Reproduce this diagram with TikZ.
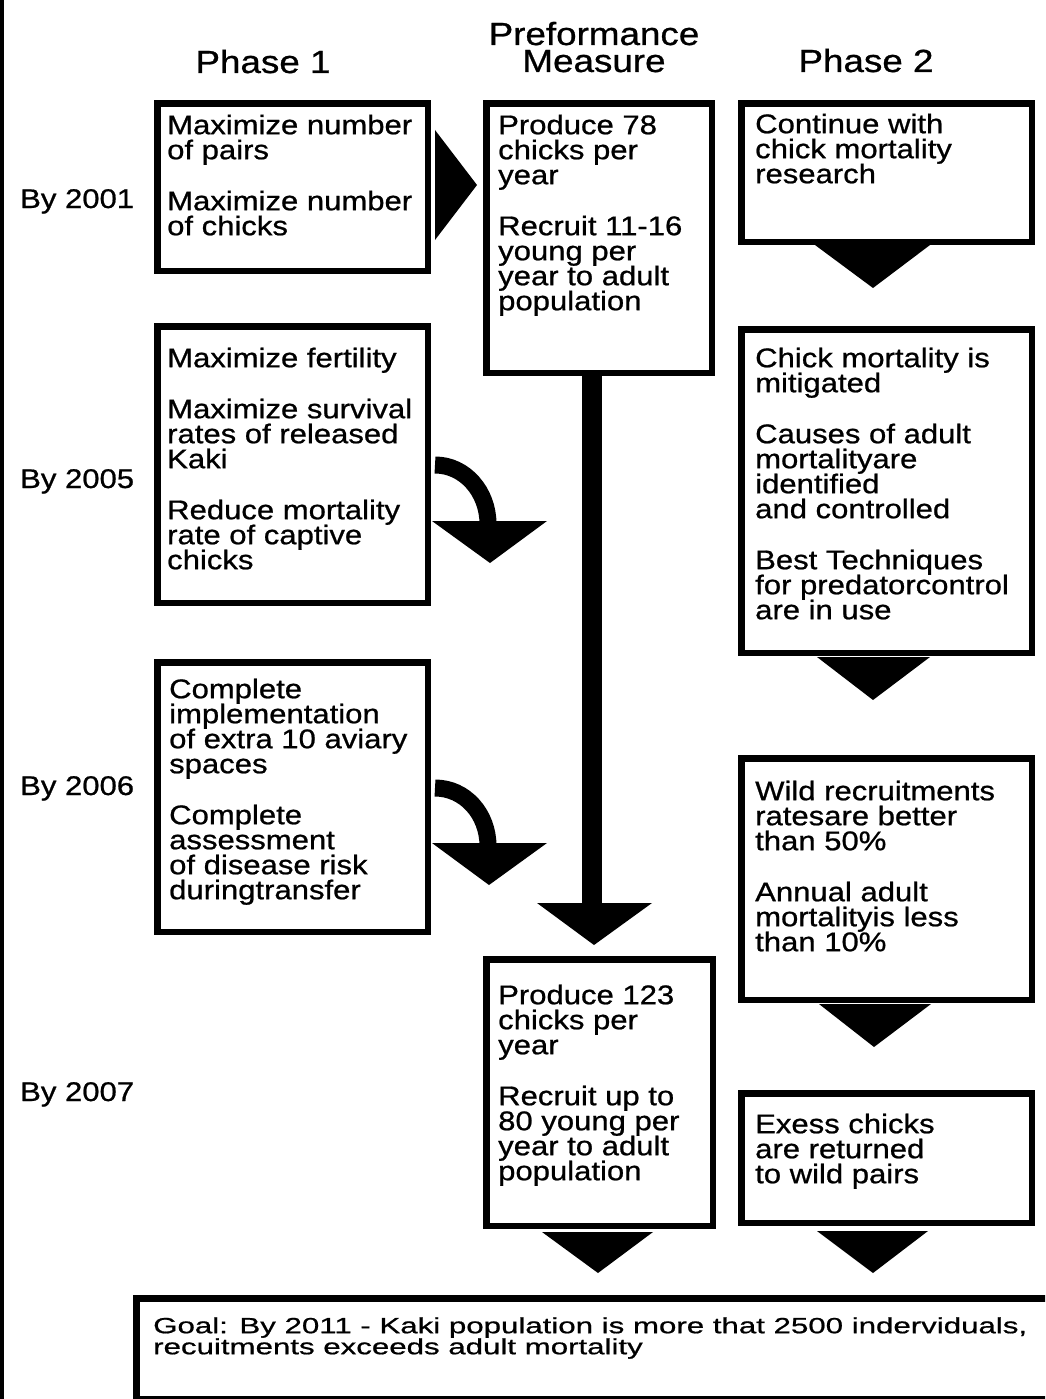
\documentclass[tikz,border=0pt]{standalone}
\usepackage{fontspec}
\setmainfont{Liberation Sans}
\newfontfamily\bfam[FakeStretch=1.15,FakeBold=0.8]{Liberation Sans}
\newfontfamily\gfam[FakeStretch=1.42,FakeBold=0.8]{Liberation Sans}
\newcommand\bodyf{\bfam\fontsize{27pt}{25pt}\selectfont\lineskiplimit=-100pt\lineskip=0pt}
\newcommand\headf{\bfam\fontsize{32pt}{23pt}\selectfont\lineskiplimit=-100pt\lineskip=0pt}
\newcommand\goalf{\gfam\fontsize{22pt}{21pt}\selectfont\lineskiplimit=-100pt\lineskip=0pt}
\newcommand\firstl[1]{\rule{0pt}{#1}}
\begin{document}
\begin{tikzpicture}[x=1pt,y=-1pt,
  box/.style={draw=black, line width=6.5pt, inner sep=0pt, anchor=north west},
  txt/.style={anchor=north west, inner sep=0pt, align=left, font=\bodyf},
  goaltxt/.style={anchor=north west, inner sep=0pt, align=left, font=\goalf},
  lbl/.style={anchor=base west, inner sep=0pt, font=\bodyf},
  head/.style={anchor=base, inner sep=0pt, font=\headf},
  tri/.style={fill=black},
  vbar/.style={draw=black, line width=20pt},
  curvebar/.style={draw=black, line width=17pt}]
\useasboundingbox (0,0) rectangle (1045,1399);
\fill[white] (0,0) rectangle (1045,1399);
\clip (0,0) rectangle (1045,1399);
\fill[black] (0,0) rectangle (3.5,1399);

% headers
\node[head] (h1) at (263,73) {Phase 1};
\node[head] (h2a) at (594,45) {Preformance};
\node[head] (h2b) at (594,72) {Measure};
\node[head] (h3) at (866,72) {Phase 2};

% row labels
\node[lbl] (y1) at (20,208) {By 2001};
\node[lbl] (y2) at (20,488) {By 2005};
\node[lbl] (y3) at (20,795) {By 2006};
\node[lbl] (y4) at (20,1101) {By 2007};

% boxes
\node[box, minimum width=270.5pt, minimum height=167.5pt] (p1a) at (154.25,100.25) {};
\node[box, minimum width=270.5pt, minimum height=276.5pt] (p1b) at (154.25,323.25) {};
\node[box, minimum width=270.5pt, minimum height=269.5pt] (p1c) at (154.25,659.25) {};
\node[box, minimum width=225.5pt, minimum height=269.5pt] (pm1) at (483.25,100.25) {};
\node[box, minimum width=226.5pt, minimum height=266.5pt] (pm2) at (483.25,956.25) {};
\node[box, minimum width=290.5pt, minimum height=138.5pt] (p2a) at (738.25,100.25) {};
\node[box, minimum width=290.5pt, minimum height=323.5pt] (p2b) at (738.25,326.25) {};
\node[box, minimum width=290.5pt, minimum height=241.5pt] (p2c) at (738.25,755.25) {};
\node[box, minimum width=290.5pt, minimum height=129.5pt] (p2d) at (738.25,1090.25) {};
\node[box, minimum width=940pt, minimum height=100.5pt] (goal) at (133.25,1295.25) {};

% box texts
\node[txt] (p1at) at (167,112) {\firstl{22pt}Maximize number\\of pairs\\[26pt]Maximize number\\of chicks};
\node[txt] (p1bt) at (167,345) {\firstl{22pt}Maximize fertility\\[26pt]Maximize survival\\rates of released\\Kaki\\[26pt]Reduce mortality\\rate of captive\\chicks};
\node[txt] (p1ct) at (169,676) {\firstl{22pt}Complete\\implementation\\of extra 10 aviary\\spaces\\[26pt]Complete\\assessment\\of disease risk\\duringtransfer};
\node[txt] (pm1t) at (498,112) {\firstl{22pt}Produce 78\\chicks per\\year\\[26pt]Recruit 11-16\\young per\\year to adult\\population};
\node[txt] (pm2t) at (498,982) {\firstl{22pt}Produce 123\\chicks per\\year\\[26pt]Recruit up to\\80 young per\\year to adult\\population};
\node[txt] (p2at) at (755,111) {\firstl{22pt}Continue with\\chick mortality\\research};
\node[txt] (p2bt) at (755,345) {\firstl{22pt}Chick mortality is\\mitigated\\[26pt]Causes of adult\\mortalityare\\identified\\and controlled\\[26pt]Best Techniques\\for predatorcontrol\\are in use};
\node[txt] (p2ct) at (755,778) {\firstl{22pt}Wild recruitments\\ratesare better\\than 50\%\\[26pt]Annual adult\\mortalityis less\\than 10\%};
\node[txt] (p2dt) at (755,1111) {\firstl{22pt}Exess chicks\\are returned\\to wild pairs};
\node[goaltxt] (goalt) at (153,1315) {\firstl{18pt}Goal: By 2011 - Kaki population is more that 2500 inderviduals,\\recuitments exceeds adult mortality};

% arrow heads and connectors
\coordinate (ra1) at (435,130); \coordinate (ra2) at (435,240); \coordinate (ra3) at (477,185);
\fill[tri] (ra1) -- (ra2) -- (ra3) -- cycle;

\coordinate (ta1) at (815,245); \coordinate (ta2) at (930,245); \coordinate (ta3) at (873,288);
\fill[tri] (ta1) -- (ta2) -- (ta3) -- cycle;
\coordinate (tb1) at (817,657); \coordinate (tb2) at (930,657); \coordinate (tb3) at (873,700);
\fill[tri] (tb1) -- (tb2) -- (tb3) -- cycle;
\coordinate (tc1) at (819,1004); \coordinate (tc2) at (931,1004); \coordinate (tc3) at (874,1047);
\fill[tri] (tc1) -- (tc2) -- (tc3) -- cycle;
\coordinate (td1) at (817,1231); \coordinate (td2) at (928,1231); \coordinate (td3) at (873,1273);
\fill[tri] (td1) -- (td2) -- (td3) -- cycle;
\coordinate (tp1) at (542,1232); \coordinate (tp2) at (653,1232); \coordinate (tp3) at (598,1273);
\fill[tri] (tp1) -- (tp2) -- (tp3) -- cycle;

% long vertical connector
\coordinate (vs) at (592,370); \coordinate (ve) at (592,905);
\draw[vbar] (vs) -- (ve);
\coordinate (tv1) at (537,903); \coordinate (tv2) at (652,903); \coordinate (tv3) at (594,945);
\fill[tri] (tv1) -- (tv2) -- (tv3) -- cycle;

% curved arrows
\coordinate (c1s) at (435,465); \coordinate (c1e) at (488,524);
\draw[curvebar] (c1s) .. controls (465,465) and (488,492) .. (c1e);
\coordinate (tk1) at (432,521); \coordinate (tk2) at (547,521); \coordinate (tk3) at (490,563);
\fill[tri] (tk1) -- (tk2) -- (tk3) -- cycle;

\coordinate (c2s) at (435,788); \coordinate (c2e) at (488,846);
\draw[curvebar] (c2s) .. controls (465,788) and (488,814) .. (c2e);
\coordinate (tl1) at (432,843); \coordinate (tl2) at (547,843); \coordinate (tl3) at (489,885);
\fill[tri] (tl1) -- (tl2) -- (tl3) -- cycle;
\end{tikzpicture}
\end{document}
